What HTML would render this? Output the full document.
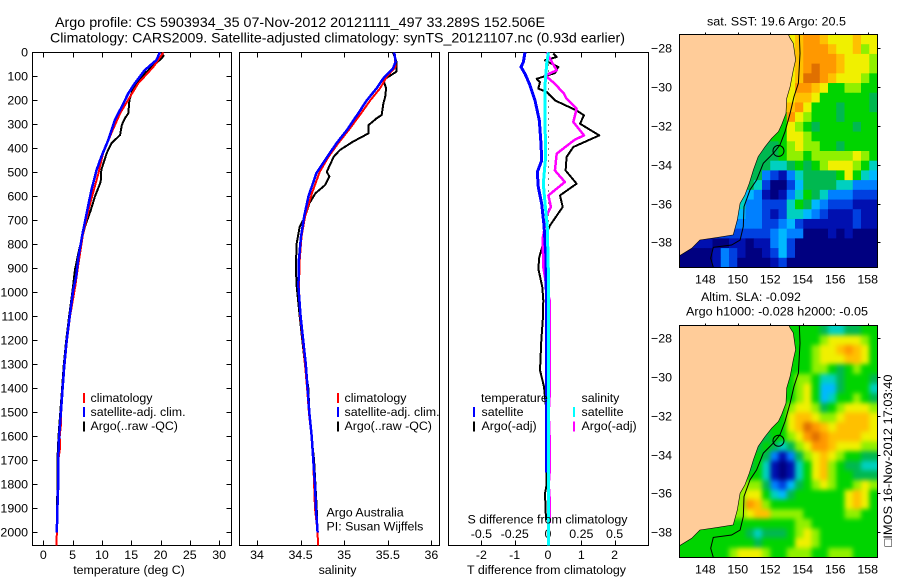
<!DOCTYPE html>
<html lang="en">
<head>
<meta charset="utf-8">
<title>Argo profile chart</title>
<style>
html,body{margin:0;padding:0;background:#fff;}
svg{display:block;font-family:"Liberation Sans",Arial,sans-serif;font-size:12.4px;fill:#000;}
text{fill:#000;}
</style>
</head>
<body>
<svg id="chart" xmlns="http://www.w3.org/2000/svg" width="900" height="580" viewBox="0 0 900 580">
  <defs>
    <clipPath id="clipSst"><rect x="679.5" y="34.5" width="198" height="233"/></clipPath>
    <clipPath id="clipSla"><rect x="679.5" y="325.5" width="198" height="232"/></clipPath>
    <filter id="smooth" filterUnits="userSpaceOnUse" x="600" y="280" width="300" height="300" color-interpolation-filters="sRGB"><feGaussianBlur stdDeviation="2.5"/></filter>
  </defs>

  <text x="55" y="27" font-size="14" textLength="490" lengthAdjust="spacingAndGlyphs">Argo profile: CS 5903934_35 07-Nov-2012 20121111_497 33.289S 152.506E</text>
  <text x="50" y="42.5" font-size="14" textLength="575" lengthAdjust="spacingAndGlyphs">Climatology: CARS2009. Satellite-adjusted climatology: synTS_20121107.nc (0.93d earlier)</text>

  <g id="layerSst"></g>
  <g id="layerSla"></g>
  <g id="layerProfiles"></g>

  <text x="129" y="574" text-anchor="middle">temperature (deg C)</text>
  <text x="337.5" y="574" text-anchor="middle">salinity</text>
  <text x="546.5" y="574" text-anchor="middle" textLength="159" lengthAdjust="spacingAndGlyphs">T difference from climatology</text>
  <text x="547.5" y="523.5" text-anchor="middle" textLength="160" lengthAdjust="spacingAndGlyphs">S difference from climatology</text>

  <g>
    <rect x="83" y="393" width="2" height="10" fill="#f00"/>
    <text x="90.5" y="402">climatology</text>
    <rect x="83" y="407" width="2" height="10" fill="#00f"/>
    <text x="90.5" y="416">satellite-adj. clim.</text>
    <rect x="83" y="421.5" width="2" height="10" fill="#000"/>
    <text x="90.5" y="430">Argo(..raw -QC)</text>
  </g>
  <g>
    <rect x="337" y="393" width="2" height="10" fill="#f00"/>
    <text x="344.5" y="402">climatology</text>
    <rect x="337" y="407" width="2" height="10" fill="#00f"/>
    <text x="344.5" y="416">satellite-adj. clim.</text>
    <rect x="337" y="421.5" width="2" height="10" fill="#000"/>
    <text x="344.5" y="430">Argo(..raw -QC)</text>
    <text x="326.5" y="516.5">Argo Australia</text>
    <text x="326.5" y="530.5">PI: Susan Wijffels</text>
  </g>
  <g>
    <text x="481" y="402">temperature</text>
    <rect x="473" y="407" width="2" height="10" fill="#00f"/>
    <text x="481.5" y="416">satellite</text>
    <rect x="473" y="421.5" width="2" height="10" fill="#000"/>
    <text x="481.5" y="430">Argo(-adj)</text>
    <text x="581.5" y="402">salinity</text>
    <rect x="573" y="407" width="2" height="10" fill="#0ff"/>
    <text x="581.5" y="416">satellite</text>
    <rect x="573" y="421.5" width="2" height="10" fill="#f0f"/>
    <text x="581.5" y="430">Argo(-adj)</text>
  </g>

  <text x="707" y="25.5" textLength="139" lengthAdjust="spacingAndGlyphs">sat. SST: 19.6 Argo: 20.5</text>
  <text x="701" y="301">Altim. SLA: -0.092</text>
  <text x="686" y="315.5" textLength="182" lengthAdjust="spacingAndGlyphs">Argo h1000: -0.028 h2000: -0.05</text>
  <text transform="translate(892,546.5) rotate(-90)" textLength="172" lengthAdjust="spacingAndGlyphs">□IMOS 16-Nov-2012 17:03:40</text>
</svg>

<script>
// ---- Depth axis ----
const depthTicks = [0,100,200,300,400,500,600,700,800,900,1000,1100,1200,1300,1400,1500,1600,1700,1800,1900,2000];

// ---- Panel tick labels ----
const tempTicks = [0,5,10,15,20,25,30];
const salinityTicks = [34,34.5,35,35.5,36];
const tDiffTicks = [-2,-1,0,1,2];
const sDiffTicks = [-0.5,-0.25,0,0.25,0.5];
const sDiffTickLabels = ['-0.5','-0.25','0','0.25','0.5'];

// ---- Temperature profiles ----
const tempClimDepth = [0,60,129,185,254,337,421,504,629,754,879,976,1100,1200,1300,1400,1500,1540,1600,1650,1700,1800,1900,2000,2054];
const tempClimValues = [20.5,18.8,16.2,14.8,13.1,11.6,10.2,9.4,8.0,6.8,6.0,5.45,4.55,4.05,3.65,3.3,3.05,3.05,2.8,2.85,2.55,2.55,2.35,2.3,2.27];
const tempSatDepth = [0,32,74,129,171,226,282,365,435,490,574,657,754,851,935,990,1100,1200,1300,1400,1500,1600,1700,1800,1900,2000];
const tempSatValues = [19.9,19.3,17.3,15.6,14.5,13.4,12.2,11.1,9.9,9.1,8.2,7.5,6.7,6.0,5.6,5.1,4.5,4.0,3.6,3.3,3.0,2.7,2.55,2.55,2.4,2.3];
const tempArgoDepth = [10,25,53,101,150,199,254,275,303,344,379,421,490,539,601,657,726,824,907,990,1100,1200,1300,1400,1500,1600,1700,1800,1900,1950];
const tempArgoValues = [20.6,20.2,18.8,16.8,15.3,14.7,14.5,13.9,13.4,13.1,11.6,10.8,9.9,9.8,8.8,8.1,7.1,6.1,5.4,5.0,4.4,3.9,3.5,3.2,2.9,2.6,2.4,2.45,2.3,2.3];

// ---- Salinity profiles ----
const salClimDepth = [0,60,101,150,199,261,324,379,435,497,587,685,768,865,976,1100,1200,1300,1400,1500,1600,1700,1800,1900,2000,2054];
const salClimValues = [35.575,35.59,35.49,35.41,35.30,35.18,35.05,34.93,34.82,34.72,34.63,34.55,34.51,34.49,34.48,34.495,34.525,34.55,34.575,34.595,34.625,34.645,34.655,34.665,34.695,34.70];
const salSatDepth = [0,39,67,108,150,199,254,324,379,449,504,601,685,768,865,976,1100,1200,1300,1400,1500,1600,1700,1800,1900,2000];
const salSatValues = [35.575,35.59,35.56,35.45,35.37,35.26,35.16,35.03,34.91,34.78,34.68,34.59,34.54,34.505,34.48,34.475,34.50,34.53,34.56,34.58,34.60,34.627,34.646,34.665,34.677,34.695];
const salArgoDepth = [0,39,80,115,150,185,212,261,275,303,337,372,407,435,497,518,553,587,629,685,726,796,893,976,1100,1200,1300,1400,1500,1600,1700,1800,1900,1960];
const salArgoValues = [35.56,35.60,35.60,35.45,35.48,35.47,35.45,35.43,35.37,35.28,35.28,35.10,34.95,34.88,34.80,34.83,34.78,34.67,34.60,34.55,34.49,34.455,34.445,34.455,34.49,34.52,34.55,34.59,34.60,34.625,34.655,34.67,34.685,34.69];

// ---- Difference profiles ----
const tDiffSatDepth = [0,40,61,89,131,200,283,381,450,499,561,631,721,853,922,1000,1300,1600,1750];
const tDiffSatValues = [-0.69,-0.74,-0.81,-0.69,-0.56,-0.39,-0.26,-0.21,-0.19,-0.32,-0.29,-0.19,-0.12,-0.06,-0.06,-0.05,-0.05,-0.05,-0.05];
const tDiffArgoDepth = [5,19,33,61,86,110,124,151,165,200,242,262,297,346,394,436,492,547,596,644,721,769,853,901,978,1033,1100,1200,1324,1393,1476,1600,1800,1837,1949];
const tDiffArgoValues = [0.16,0.26,-0.09,0.31,0.21,-0.34,-0.24,-0.29,-0.04,0.21,0.86,1.08,0.96,1.54,0.76,0.56,0.53,0.86,0.36,0.44,0.06,-0.09,-0.26,-0.29,-0.17,-0.14,-0.15,-0.2,-0.24,-0.12,-0.06,-0.06,-0.04,-0.09,-0.06];
const sDiffSatDepth = [0,47,131,297,436,547,631,728,922,1500,2054];
const sDiffSatValues = [0.003,-0.01,-0.022,-0.022,-0.018,-0.035,-0.022,-0.005,0.003,0.005,0.005];
const sDiffArgoDepth = [0,33,75,96,131,172,193,235,290,346,364,422,492,540,596,644,679,776,894,964,1033,1400,1500,1650,1750,1800,1880,1960];
const sDiffArgoValues = [-0.01,0.022,0.065,-0.022,0.052,0.12,0.14,0.215,0.19,0.27,0.2,0.065,0.052,0.127,0.003,0.022,-0.01,-0.04,-0.035,-0.015,0.012,0.015,0.005,0.015,0.012,0.005,0.015,0.012];

// ---- Map axes ----
const lonTicks = [148,150,152,154,156,158];
const latTicks = [-28,-30,-32,-34,-36,-38];
const profileLon = [152.506];
const profileLat = [-33.289];

// ---- Map raster: colour level per cell, rows north to south ----
const sstGrid = [
[9,9,9,9,9,9,9,9,9,9,9,9,9,9,10,11,11,10,9,9,9,10,9,9],
[9,9,9,9,9,9,9,9,9,9,9,9,9,9,10,11,11,11,10,9,9,10,8,9],
[9,9,9,9,9,9,9,9,9,9,9,9,9,9,10,11,11,11,11,10,9,9,9,8],
[9,9,9,9,9,9,9,9,9,9,9,9,9,9,10,11,12,11,11,10,9,9,9,8],
[9,9,9,9,9,9,9,9,9,9,9,9,9,9,10,12,12,11,10,9,9,9,8,7],
[9,9,9,9,9,9,9,9,9,9,9,9,9,9,11,11,10,9,7,7,8,8,7,7],
[9,9,9,9,9,9,9,9,9,9,9,9,9,9,10,10,9,7,7,7,7,7,7,6],
[9,9,9,9,9,9,9,9,9,9,9,9,9,10,11,9,7,7,7,6,7,7,7,6],
[7,7,7,7,7,7,7,7,7,7,7,7,7,11,9,8,7,7,7,6,7,7,7,7],
[7,7,7,7,7,7,7,7,7,7,7,7,7,9,8,7,6,7,7,7,7,6,7,7],
[7,7,7,7,7,7,7,7,7,7,7,7,7,9,9,8,7,7,7,7,7,7,7,7],
[6,6,6,6,6,6,6,6,6,6,6,6,7,8,9,8,8,7,7,6,7,7,7,7],
[6,6,6,6,6,6,6,6,6,6,6,6,7,8,8,7,8,8,8,8,8,9,8,7],
[6,6,6,6,6,6,6,6,6,6,6,5,5,6,7,6,7,8,9,9,9,8,7,5],
[6,6,6,6,6,6,6,6,6,6,3,2,1,3,5,6,6,6,6,7,9,7,5,4],
[6,6,6,6,6,6,6,6,6,5,2,0,0,2,4,6,6,6,6,5,5,3,3,3],
[5,5,5,5,5,5,5,5,4,3,1,0,1,3,5,7,6,5,3,3,3,2,2,2],
[5,5,5,5,5,5,5,5,3,3,2,2,2,5,7,6,4,3,2,2,2,1,1,1],
[4,4,4,4,4,4,4,4,3,3,2,1,2,5,5,4,3,2,1,1,1,2,1,1],
[3,3,3,3,3,3,3,3,3,3,2,2,3,4,2,1,1,1,1,1,1,2,1,1],
[2,2,2,2,2,2,2,2,2,2,2,3,4,3,3,0,0,0,1,0,1,0,0,0],
[1,1,1,1,0,0,1,1,0,1,1,3,4,2,0,0,0,0,0,0,0,0,0,0],
[0,0,0,0,1,3,2,1,0,0,1,2,4,2,0,0,0,0,0,0,0,0,0,0],
[0,0,0,0,1,3,2,0,0,0,0,1,2,0,0,0,0,0,0,0,0,0,0,0]
];
const slaGrid = [
[7,7,7,7,7,7,7,7,7,7,7,7,7,7,7,7,7,6,5,5,6,6,7,7],
[7,7,7,7,7,7,7,7,7,7,7,7,7,7,7,7,7,8,9,9,9,9,8,7],
[7,7,7,7,7,7,7,7,7,7,7,7,7,7,7,7,8,9,9,10,11,10,9,7],
[7,7,7,7,7,7,7,7,7,7,7,7,7,7,7,7,8,9,9,9,10,10,9,7],
[7,7,7,7,7,7,7,7,7,7,7,7,7,7,7,7,8,8,7,6,7,8,7,7],
[7,7,7,7,7,7,7,7,7,7,7,7,7,7,8,8,7,5,5,6,7,7,7,6],
[7,7,7,7,7,7,7,7,7,7,7,7,7,7,8,9,7,4,4,6,7,7,7,5],
[7,7,7,7,7,7,7,7,7,7,7,7,7,7,8,9,7,4,5,7,7,8,7,6],
[7,7,7,7,7,7,7,7,7,7,7,7,7,8,9,9,8,6,7,8,9,9,9,8],
[7,7,7,7,7,7,7,7,7,7,7,7,7,9,10,10,9,8,8,9,10,10,10,9],
[7,7,7,7,7,7,7,7,7,7,7,7,7,9,10,12,11,10,9,10,10,10,10,9],
[6,6,6,6,6,6,6,6,6,6,6,7,7,8,9,11,12,11,10,10,10,10,9,9],
[6,6,6,6,6,6,6,6,6,6,7,6,5,6,8,9,11,11,10,9,9,9,8,8],
[6,6,6,6,6,6,6,6,6,7,6,3,1,3,6,8,9,10,9,8,7,7,6,6],
[6,6,6,6,6,6,6,6,6,7,5,1,0,1,5,7,9,10,8,7,6,6,5,5],
[7,7,7,7,7,7,7,7,7,7,5,1,0,1,5,7,9,10,8,7,7,6,6,6],
[8,8,8,8,8,8,8,8,8,8,6,3,2,4,6,7,8,9,8,7,7,8,9,8],
[8,8,8,8,8,8,8,8,9,9,7,5,4,6,7,7,7,7,7,7,9,10,9,7],
[8,8,8,8,8,8,8,8,11,10,8,7,7,7,7,7,7,7,7,7,9,10,9,7],
[8,8,8,8,8,8,8,8,9,10,10,8,8,8,8,7,7,7,7,7,8,8,7,7],
[7,7,7,7,7,7,7,7,7,7,7,7,7,7,8,8,7,7,7,7,7,7,7,7],
[7,7,7,7,7,7,7,7,6,5,6,6,6,7,8,9,8,7,7,7,7,7,7,7],
[7,7,7,7,7,7,7,7,7,6,7,7,7,7,9,9,8,7,7,7,7,7,7,7],
[7,7,7,7,7,7,8,9,9,9,8,7,7,8,8,8,7,7,8,8,8,7,7,7]
];
const palette = ['#000080','#0010b0','#0040e0','#0080ff','#00b8ff','#00d0c0','#00b850','#00d400','#90f000','#f0f000','#ffc000','#ff9800','#e07000'];

// ---- Coastline and isobath ----
const coastLon = [146.4,153.11,153.22,153.42,153.56,153.42,153.22,153.01,152.97,152.70,152.50,152.09,151.68,151.26,150.96,150.71,150.44,150.14,149.97,149.72,148.70,147.67,147.16,146.4];
const coastLat = [-27.28,-27.28,-27.48,-27.74,-28.60,-29.12,-29.98,-30.58,-31.35,-31.95,-32.30,-32.64,-33.07,-33.58,-34.27,-34.96,-35.56,-35.99,-36.85,-37.62,-37.76,-37.88,-38.31,-38.70];
const isoLon = [153.79,153.83,153.79,153.73,153.46,153.22,152.91,152.60,152.19,151.57,151.16,150.75,150.38,150.34,150.14,149.62,148.49,148.33,148.49];
const isoLat = [-27.28,-28.26,-28.95,-29.80,-30.49,-31.35,-32.30,-32.98,-33.41,-33.93,-34.79,-35.30,-36.16,-37.19,-37.88,-38.14,-38.26,-38.82,-39.29];

// ---- Helpers ----
const NS = 'http://www.w3.org/2000/svg';
function make(tag, parent, props) {
  const el = document.createElementNS(NS, tag);
  for (const k in props) el.setAttribute(k, props[k]);
  parent.appendChild(el);
  return el;
}
const yDepth = d => 52.4 + d * 0.24;
const xTemp = v => 43.3 + v * 5.86;
const xSal = v => 257 + (v - 34) * 87.2;
const xTDiff = v => 548 + v * 33.3;
const xSDiff = v => 548 + v * 133.2;
function pointList(xs, ys, fx, fy) {
  return xs.map((x, i) => fx(x).toFixed(1) + ',' + fy(ys[i]).toFixed(1)).join(' ');
}

const root = document.getElementById('layerProfiles');

// ---- Panel frames ----
function frame(left, right, title) {
  const r = make('rect', root, {x:left, y:52.5, width:right-left, height:493, fill:'none', stroke:'#000', 'stroke-width':1, 'shape-rendering':'crispEdges'});
  
  
}
function bottomAxis(ticks, labels, fx, baseline, drawTicks, axisName) {
  const g = make('g', root, {});
  
  
  ticks.forEach((t, i) => {
    const x = Math.round(fx(t)) + 0.5;
    if (drawTicks) {
      const a = make('line', g, {x1:x, x2:x, y1:52.5, y2:57.5, stroke:'#000', 'shape-rendering':'crispEdges'});
      
      
      const b = make('line', g, {x1:x, x2:x, y1:540.5, y2:545.5, stroke:'#000', 'shape-rendering':'crispEdges'});
      
      
    }
    const lab = make('text', g, {x:fx(t), y:baseline, 'text-anchor':'middle'});
    
    
    lab.textContent = labels[i];
  });
}
function profile(xs, ys, fx, colour, width, seriesName) {
  const p = make('polyline', root, {points:pointList(xs, ys, fx, yDepth), fill:'none', stroke:colour, 'stroke-width':width, 'stroke-linejoin':'round', 'shape-rendering':'crispEdges'});
  
  
}

frame(32.5, 231.5, 'temperature-panel');
frame(239.5, 439.5, 'salinity-panel');
frame(448.5, 648.5, 'difference-panel');

// depth ticks on the temperature panel, shared labels
const depthAxis = make('g', root, {});


depthTicks.forEach(d => {
  const y = Math.round(yDepth(d)) + 0.5;
  if (d > 0) {
    const a = make('line', depthAxis, {x1:32.5, x2:37.5, y1:y, y2:y, stroke:'#000', 'shape-rendering':'crispEdges'});
    
    
    const b = make('line', depthAxis, {x1:226.5, x2:231.5, y1:y, y2:y, stroke:'#000', 'shape-rendering':'crispEdges'});
    
    
  }
  const lab = make('text', depthAxis, {x:28, y:y + 4, 'text-anchor':'end'});
  
  
  lab.textContent = d;
});

bottomAxis(tempTicks, tempTicks, xTemp, 559, true, 'temperature-axis');
bottomAxis(salinityTicks, salinityTicks, xSal, 559, true, 'salinity-axis');
bottomAxis(tDiffTicks, tDiffTicks, xTDiff, 559, true, 't-difference-axis');
bottomAxis(sDiffTicks, sDiffTickLabels, xSDiff, 538, false, 's-difference-axis');

// zero reference line in difference panel
const zeroLine = make('line', root, {x1:548.5, x2:548.5, y1:yDepth(0), y2:yDepth(750), stroke:'#000', 'stroke-dasharray':'1 5', 'shape-rendering':'crispEdges'});



// series
profile(tempArgoValues, tempArgoDepth, xTemp, '#000', 2, 'temperature-argo-line');
profile(tempClimValues, tempClimDepth, xTemp, '#f00', 2, 'temperature-climatology-line');
profile(tempSatValues, tempSatDepth, xTemp, '#00f', 2.5, 'temperature-satellite-line');
profile(salArgoValues, salArgoDepth, xSal, '#000', 2, 'salinity-argo-line');
profile(salClimValues, salClimDepth, xSal, '#f00', 2, 'salinity-climatology-line');
profile(salSatValues, salSatDepth, xSal, '#00f', 2.5, 'salinity-satellite-line');
profile(tDiffArgoValues, tDiffArgoDepth, xTDiff, '#000', 2, 't-difference-argo-line');
profile(sDiffArgoValues, sDiffArgoDepth, xSDiff, '#f0f', 2.5, 's-difference-argo-line');
profile(tDiffSatValues, tDiffSatDepth, xTDiff, '#00f', 3, 't-difference-satellite-line');
profile(sDiffSatValues, sDiffSatDepth, xSDiff, '#0ff', 3, 's-difference-satellite-line');

// ---- Maps ----
function drawMap(layerId, grid, top, bottom, lat28, lat38, clipId, blurred, labelBaseline) {
  const layer = document.getElementById(layerId);
  const left = 679.5, right = 877.5;
  const fLon = lon => 705.3 + (lon - 148) * 16.24;
  const fLat = lat => lat28 + (-28 - lat) * (lat38 - lat28) / 10;
  const clip = make('g', layer, {'clip-path':'url(#' + clipId + ')'});
  
  
  const cells = make('g', clip, blurred ? {filter:'url(#smooth)'} : {});
  
  
  const nRows = grid.length, nCols = grid[0].length;
  const w = (right - left) / nCols, h = (bottom - top) / nRows;
  grid.forEach((row, j) => row.forEach((v, i) => {
    const pad = blurred ? 12 : 0;
    const x0 = left + i * w - (i === 0 ? pad : 0);
    const y0 = top + j * h - (j === 0 ? pad : 0);
    const x1 = left + (i + 1) * w + (i === nCols - 1 ? pad : 0);
    const y1 = top + (j + 1) * h + (j === nRows - 1 ? pad : 0);
    const c = make('rect', cells, {x:x0, y:y0, width:x1 - x0 + 0.4, height:y1 - y0 + 0.4, fill:palette[v]});
    
    
  }));
  const land = make('polygon', clip, {points:pointList(coastLon, coastLat, fLon, fLat), fill:'#ffcc99', stroke:'#000', 'stroke-width':0.6});
  
  
  const iso = make('polyline', clip, {points:pointList(isoLon, isoLat, fLon, fLat), fill:'none', stroke:'#000', 'stroke-width':1});
  
  
  const marker = make('circle', clip, {cx:fLon(profileLon[0]), cy:fLat(profileLat[0]), r:5.5, fill:'none', stroke:'#000', 'stroke-width':1});
  
  
  const box = make('rect', layer, {x:left, y:top, width:right - left, height:bottom - top, fill:'none', stroke:'#000', 'shape-rendering':'crispEdges'});
  
  
  lonTicks.forEach(t => {
    const x = Math.round(fLon(t)) + 0.5;
    const tick = make('line', layer, {x1:x, x2:x, y1:top - 2, y2:top, stroke:'#000', 'shape-rendering':'crispEdges'});
    
    
    const lab = make('text', layer, {x:fLon(t), y:labelBaseline, 'text-anchor':'middle'});
    
    
    lab.textContent = t;
  });
  latTicks.forEach(t => {
    const y = Math.round(fLat(t)) + 0.5;
    const tick = make('line', layer, {x1:right, x2:right + 3, y1:y, y2:y, stroke:'#000', 'shape-rendering':'crispEdges'});
    
    
    const lab = make('text', layer, {x:672, y:y + 4, 'text-anchor':'end'});
    
    
    lab.textContent = String(t).replace('-', '\u2212');
  });
}
drawMap('layerSst', sstGrid, 34.5, 267.5, 48.3, 242.3, 'clipSst', false, 283.5);
drawMap('layerSla', slaGrid, 325.5, 557.5, 338, 532.3, 'clipSla', true, 573.5);
</script>
</body>
</html>
